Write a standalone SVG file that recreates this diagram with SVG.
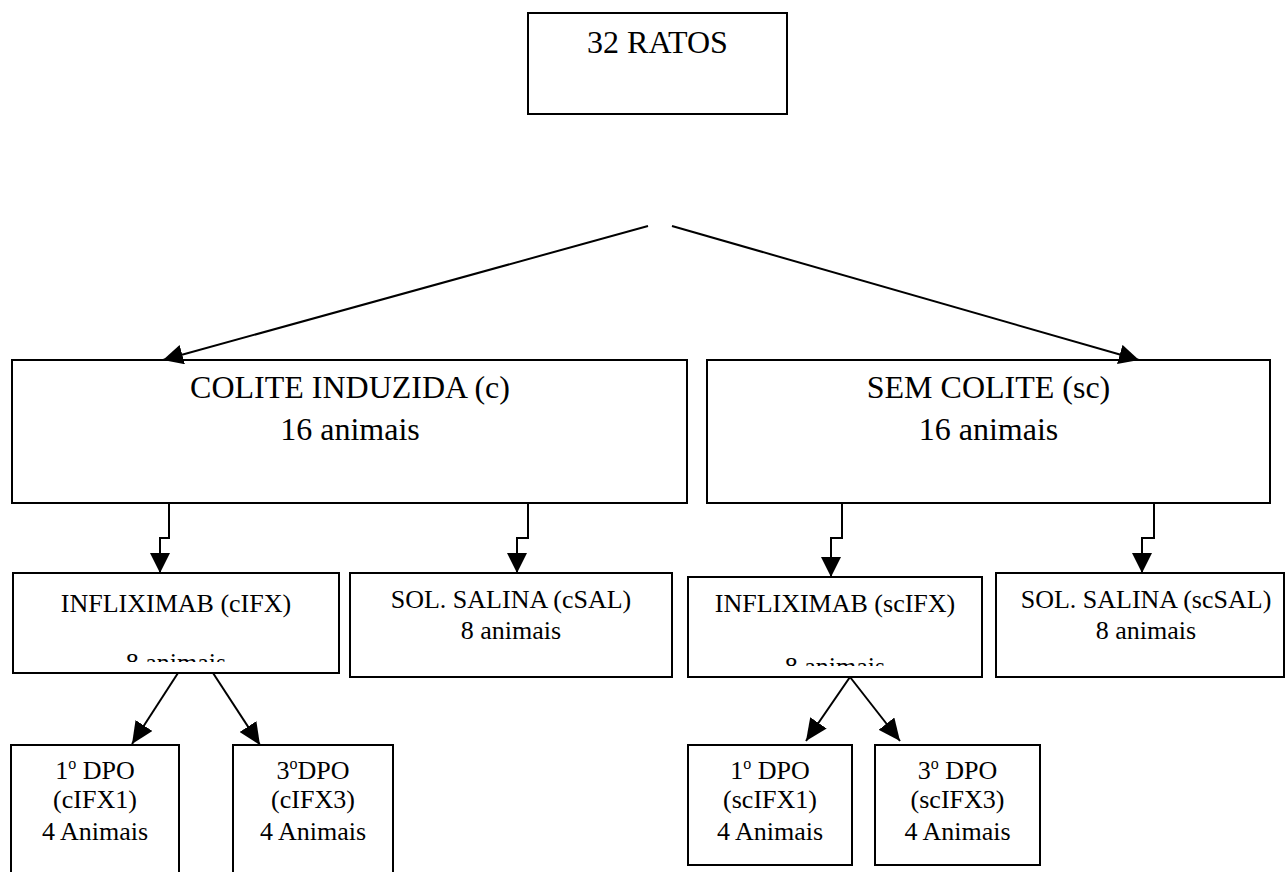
<svg xmlns="http://www.w3.org/2000/svg" width="1286" height="872" viewBox="0 0 1286 872">
<defs>
<style>
.box{fill:#fff;stroke:#000;stroke-width:2}
.ln{fill:none;stroke:#000;stroke-width:2}
.t{font-family:"Liberation Serif","Times New Roman",serif;fill:#000;text-anchor:middle}
.big{font-size:32px}
.mid{font-size:26px}
</style>
<marker id="ah" markerUnits="userSpaceOnUse" markerWidth="20" markerHeight="20" refX="20" refY="10" orient="auto" viewBox="0 0 20 20">
<path d="M0,0 L20,10 L0,20 z" fill="#000"/>
</marker>
<marker id="ah2" markerUnits="userSpaceOnUse" markerWidth="22" markerHeight="20" refX="22" refY="10" orient="auto" viewBox="0 0 22 20">
<path d="M0,0 L22,10 L0,20 z" fill="#000"/>
</marker>
<clipPath id="c1"><rect x="0" y="560" width="400" height="102"/></clipPath>
<clipPath id="c2"><rect x="680" y="560" width="320" height="106"/></clipPath>
</defs>

<g id="n-ratos">
<rect class="box" x="528" y="13" width="259" height="101"/>
<text class="t big" x="657.5" y="53">32 RATOS</text>
</g>

<g id="n-colite">
<rect class="box" x="12" y="360" width="675" height="143"/>
<text class="t big" x="350" y="398">COLITE INDUZIDA (c)</text>
<text class="t big" x="350" y="440">16 animais</text>
</g>

<g id="n-semcolite">
<rect class="box" x="707" y="360" width="563" height="143"/>
<text class="t big" x="988.5" y="398">SEM COLITE (sc)</text>
<text class="t big" x="988.5" y="440">16 animais</text>
</g>

<g id="n-cifx">
<rect class="box" x="13" y="573" width="326" height="100"/>
<text class="t mid" x="176" y="612">INFLIXIMAB (cIFX)</text>
<text class="t mid" x="176" y="671" clip-path="url(#c1)">8 animais</text>
</g>

<g id="n-csal">
<rect class="box" x="350" y="573" width="322" height="104"/>
<text class="t mid" x="511" y="608">SOL. SALINA (cSAL)</text>
<text class="t mid" x="511" y="639">8 animais</text>
</g>

<g id="n-scifx">
<rect class="box" x="688" y="577" width="294" height="100"/>
<text class="t mid" x="835" y="612">INFLIXIMAB (scIFX)</text>
<text class="t mid" x="835" y="675" clip-path="url(#c2)">8 animais</text>
</g>

<g id="n-scsal">
<rect class="box" x="996" y="573" width="288" height="104"/>
<text class="t mid" x="1146" y="608">SOL. SALINA (scSAL)</text>
<text class="t mid" x="1146" y="639">8 animais</text>
</g>

<g id="n-cifx1">
<rect class="box" x="11" y="745" width="168" height="140"/>
<text class="t mid" x="95" y="779">1<tspan font-size="16" dy="-10">o</tspan><tspan dy="10"> DPO</tspan></text>
<text class="t mid" x="95" y="808">(cIFX1)</text>
<text class="t mid" x="95" y="840">4 Animais</text>
</g>

<g id="n-cifx3">
<rect class="box" x="233" y="745" width="160" height="140"/>
<text class="t mid" x="313" y="779">3<tspan font-size="16" dy="-10">o</tspan><tspan dy="10">DPO</tspan></text>
<text class="t mid" x="313" y="808">(cIFX3)</text>
<text class="t mid" x="313" y="840">4 Animais</text>
</g>

<g id="n-scifx1">
<rect class="box" x="688" y="745" width="164" height="120"/>
<text class="t mid" x="770" y="779">1<tspan font-size="16" dy="-10">o</tspan><tspan dy="10"> DPO</tspan></text>
<text class="t mid" x="770" y="808">(scIFX1)</text>
<text class="t mid" x="770" y="840">4 Animais</text>
</g>

<g id="n-scifx3">
<rect class="box" x="875" y="745" width="165" height="120"/>
<text class="t mid" x="957.5" y="779">3<tspan font-size="16" dy="-10">o</tspan><tspan dy="10"> DPO</tspan></text>
<text class="t mid" x="957.5" y="808">(scIFX3)</text>
<text class="t mid" x="957.5" y="840">4 Animais</text>
</g>

<g id="connectors">
<line class="ln" x1="648" y1="226" x2="163" y2="360" marker-end="url(#ah)"/>
<line class="ln" x1="672" y1="226" x2="1139" y2="360" marker-end="url(#ah)"/>
<polyline class="ln" points="169,503 169,538 160,538 160,573" marker-end="url(#ah)"/>
<polyline class="ln" points="528,503 528,538 517,538 517,573" marker-end="url(#ah)"/>
<polyline class="ln" points="842,503 842,538 831,538 831,577" marker-end="url(#ah)"/>
<polyline class="ln" points="1154,503 1154,538 1142,538 1142,573" marker-end="url(#ah)"/>
<line class="ln" x1="178" y1="673" x2="132" y2="744" marker-end="url(#ah2)"/>
<line class="ln" x1="213" y1="673" x2="260" y2="745" marker-end="url(#ah2)"/>
<line class="ln" x1="850" y1="677" x2="806" y2="741" marker-end="url(#ah2)"/>
<line class="ln" x1="850" y1="677" x2="900" y2="741" marker-end="url(#ah2)"/>
</g>
</svg>
